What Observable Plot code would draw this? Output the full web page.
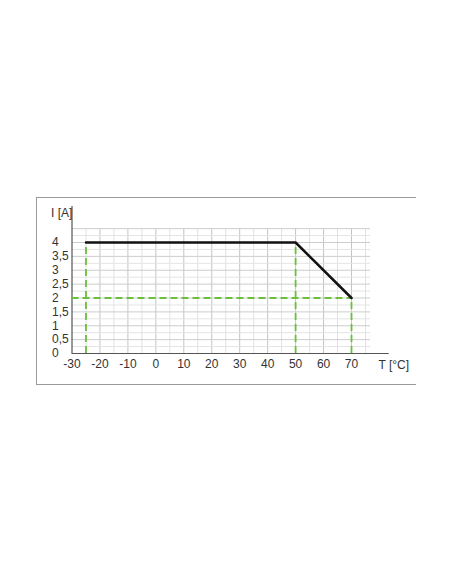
<!DOCTYPE html>
<html>
<head>
<meta charset="utf-8">
<script src="https://cdn.jsdelivr.net/npm/d3@7"></script>
<script src="https://cdn.jsdelivr.net/npm/@observablehq/plot@0.6"></script>
<style>
  html, body { margin: 0; padding: 0; background: #fff; }
  #wrap { position: relative; width: 452px; height: 584px; overflow: hidden; }
  #box { position: absolute; left: 36px; top: 197px; width: 379px; height: 186px;
         border-top: 1px solid #9a9a9a; border-left: 1px solid #9a9a9a; border-bottom: 1px solid #9a9a9a; }
  #chart { position: absolute; left: 0; top: 0; }
</style>
</head>
<body>
<div id="wrap"><div id="box"></div><div id="chart"></div></div>
<script>
// Derating curve: temperature (°C) vs current (A)
const tempC = [-25, 50, 70];
const currentA = [4, 4, 2];

// Guide (dashed) lines
const guideX = [-25, 50, 70];
const guideYTop = [4, 4, 2];
const guideY = 2;

// Ticks
const xTicks = [-30, -20, -10, 0, 10, 20, 30, 40, 50, 60, 70];
const yTicks = [0, 0.5, 1, 1.5, 2, 2.5, 3, 3.5, 4];
const xMinor = [-25, -15, -5, 5, 15, 25, 35, 45, 55, 65, 75];
const xMajor = [-20, -10, 0, 10, 20, 30, 40, 50, 60, 70];
const yMinor = [0.25, 0.75, 1.25, 1.75, 2.25, 2.75, 3.25, 3.75, 4.25];
const yMajor = [0.5, 1, 1.5, 2, 2.5, 3, 3.5, 4, 4.5];

const xLabel = "T [°C]";
const yLabel = "I [A]";

const curve = tempC.map((t, i) => ({t, i: currentA[i]}));
const guides = guideX.map((t, i) => ({t, top: guideYTop[i]}));

const fmtY = d => String(d).replace(".", ",");
const fmtX = d => String(d);
const green = "#6abf3b";
const fs = 12;

const chart = Plot.plot({
  width: 452,
  height: 584,
  marginLeft: 71.5,
  marginRight: 101,
  marginTop: 242,
  marginBottom: 231,
  x: {domain: [-30, 70]},
  y: {domain: [0, 4]},
  style: {fontFamily: "'Liberation Sans', Arial, sans-serif", fontSize: "12px", color: "#333", background: "transparent"},
  marks: [
    // grid
    Plot.ruleX(xMinor, {y1: 0, y2: 4.5, stroke: "#e2e2e2", strokeWidth: 1}),
    Plot.ruleX(xMajor, {y1: 0, y2: 4.5, stroke: "#c4c4c4", strokeWidth: 1}),
    Plot.ruleY(yMinor, {x1: -30, x2: 76.8, stroke: "#e4e4e4", strokeWidth: 1}),
    Plot.ruleY(yMajor, {x1: -30, x2: 76.8, stroke: "#cdcdcd", strokeWidth: 1}),
    // axes lines
    Plot.ruleY([0], {x1: -30, x2: 83.5, stroke: "#555", strokeWidth: 1.2}),
    Plot.ruleX([-30], {y1: 0, y2: 5.3, stroke: "#555", strokeWidth: 1.2}),
    // dashed guides
    Plot.ruleX(guides, {x: "t", y1: 0, y2: "top", stroke: green, strokeWidth: 1.8, strokeDasharray: "7,4"}),
    Plot.ruleY([guideY], {x1: -30, x2: 70, stroke: green, strokeWidth: 1.8, strokeDasharray: "7,4"}),
    // curve
    Plot.line(curve, {x: "t", y: "i", stroke: "#111", strokeWidth: 2.5, strokeLinejoin: "miter"}),
    // axes
    Plot.axisX(xTicks, {tickSize: 0, tickPadding: 6, tickFormat: fmtX, fontSize: fs, fill: "#333", label: null}),
    Plot.axisY(yTicks, {tickSize: 0, tickPadding: 20, textAnchor: "start", tickFormat: fmtY, fontSize: fs, fill: "#333", label: null}),
    // axis titles
    Plot.text([yLabel], {x: -30, y: 5.05, text: d => d, textAnchor: "start", dx: -21, fontSize: fs, fill: "#333"}),
    Plot.text([xLabel], {x: 70, y: 0, text: d => d, textAnchor: "start", dx: 27, dy: 12, fontSize: fs, fill: "#333"})
  ]
});
document.getElementById("chart").appendChild(chart);
</script>
</body>
</html>
